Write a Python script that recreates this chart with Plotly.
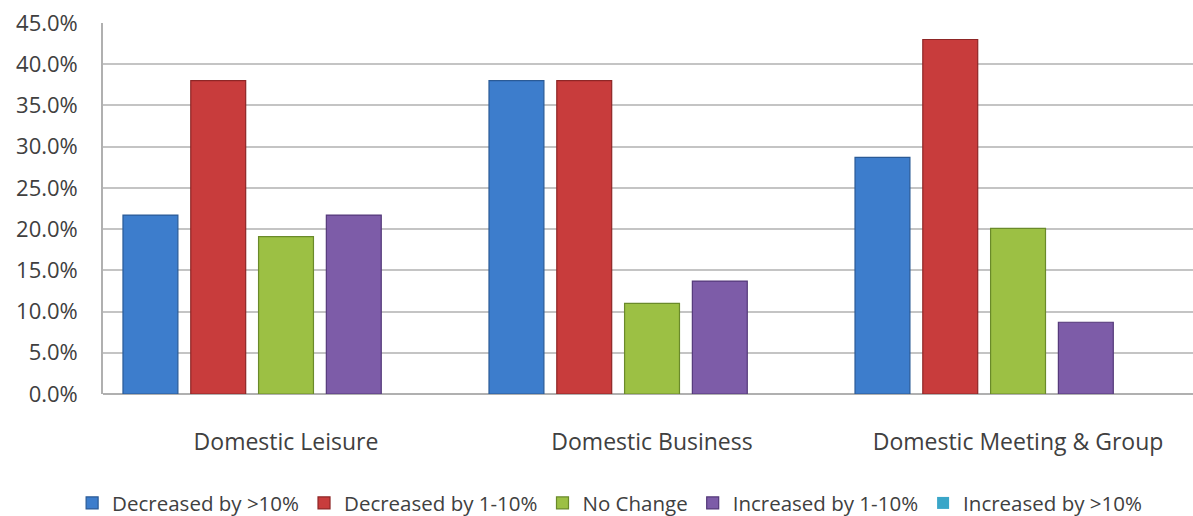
import plotly.graph_objects as go

categories = ["Domestic Leisure", "Domestic Business", "Domestic Meeting & Group"]
series_names = ["Decreased by >10%", "Decreased by 1-10%", "No Change",
                "Increased by 1-10%", "Increased by >10%"]
decreased_gt10 = [0.217, 0.380, 0.287]
decreased_1_10 = [0.380, 0.380, 0.430]
no_change = [0.191, 0.110, 0.201]
increased_1_10 = [0.217, 0.137, 0.087]
increased_gt10 = [0.0, 0.0, 0.0]
series_values = [decreased_gt10, decreased_1_10, no_change, increased_1_10, increased_gt10]

colors = ["#3d7dcc", "#c83c3c", "#9cc044", "#7d5ca8", "#3aa6c8"]
edge_colors = ["#2a5a96", "#8e2626", "#6a8a2a", "#54397a", "#2a7a96"]
edge_widths = [1.2, 1.2, 1.2, 1.2, 0]

FONT = "Open Sans"
fig = go.Figure()
for name, vals, c, ec, ew in zip(series_names, series_values, colors, edge_colors, edge_widths):
    fig.add_trace(go.Bar(
        x=categories, y=vals, name=name,
        marker=dict(color=c, line=dict(color=ec, width=ew)),
    ))

fig.update_layout(
    width=1193, height=516,
    margin=dict(l=103, r=0, t=23, b=122),
    paper_bgcolor="white", plot_bgcolor="white",
    barmode="group", bargap=0.074, bargroupgap=0.19,
    font=dict(family=FONT, size=22, color="#404040"),
    showlegend=True,
    legend=dict(orientation="h", xref="container", yref="container",
                x=0.511, xanchor="center", y=0.025, yanchor="middle",
                font=dict(family=FONT, size=20.5, color="#404040"),
                itemwidth=30, tracegroupgap=0, traceorder="normal"),
    xaxis=dict(range=[-0.5, 2.478], showgrid=False, zeroline=False,
               showline=False, ticks="outside", ticklen=27, tickcolor="rgba(0,0,0,0)",
               tickfont=dict(family=FONT, size=23, color="#404040")),
    yaxis=dict(range=[0, 0.45], dtick=0.05, tickformat=".1%",
               showgrid=True, gridcolor="#c4c4c4", gridwidth=1.6,
               zeroline=True, zerolinecolor="#b0b0b0", zerolinewidth=1.6,
               showline=True, linecolor="#b0b0b0", linewidth=1.6,
               ticks="outside", ticklen=19, tickcolor="rgba(0,0,0,0)",
               tickfont=dict(family=FONT, size=22, color="#404040")),
)

fig.write_html("out.html")
